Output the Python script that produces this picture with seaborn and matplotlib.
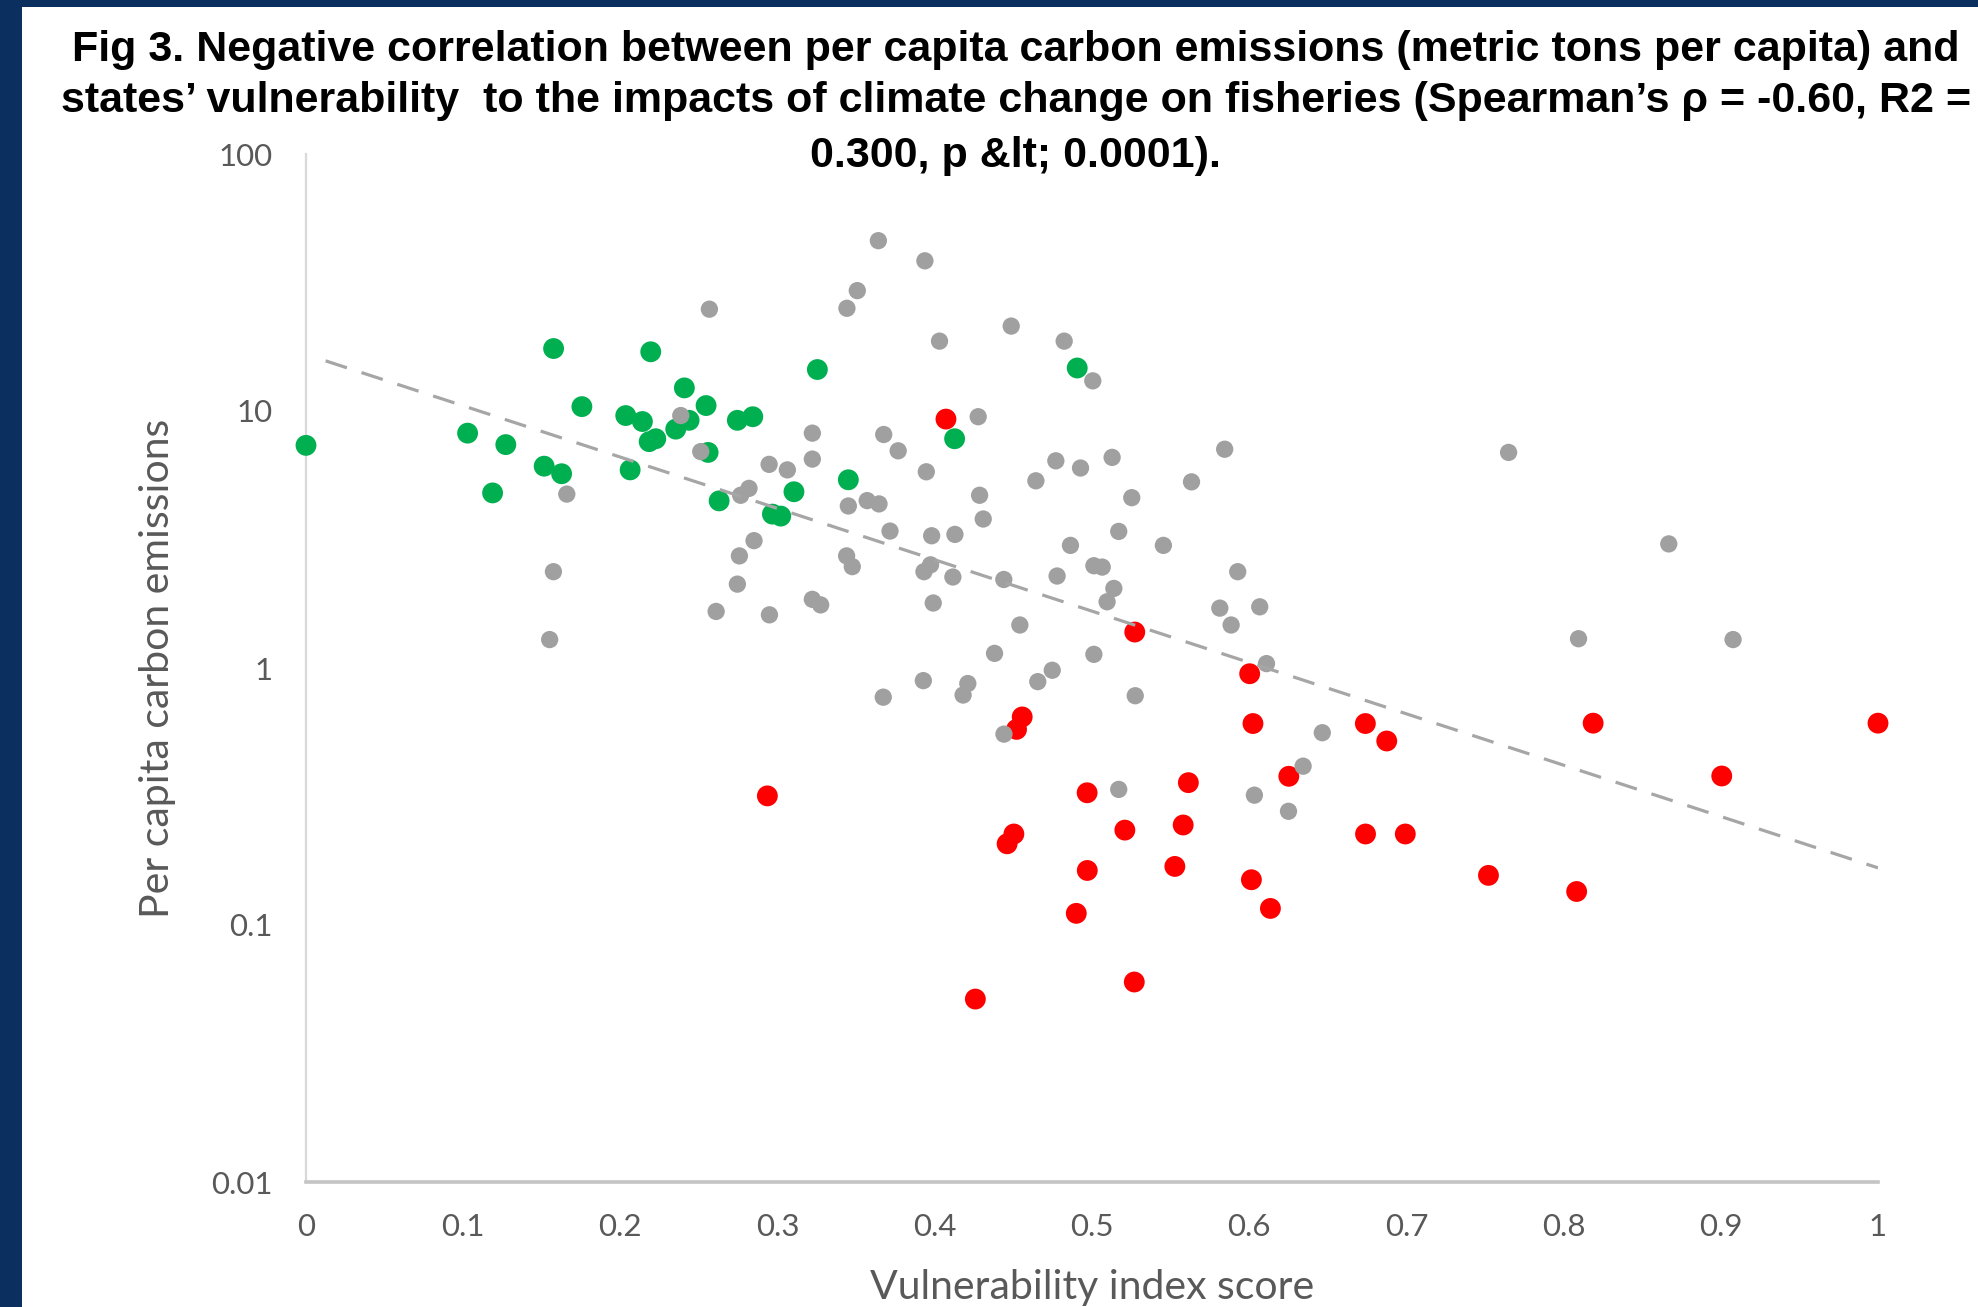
import numpy as np
import pandas as pd
import matplotlib
matplotlib.use("Agg")
import matplotlib.pyplot as plt
from matplotlib.patches import Rectangle
import seaborn as sns

# ---------------- data ----------------
green_x = [0.000, 0.1028, 0.1187, 0.1271, 0.1515, 0.1626, 0.1575, 0.1755, 0.2034, 0.2062,
           0.2140, 0.2183, 0.2225, 0.2193, 0.2352, 0.2407, 0.2437, 0.2545, 0.2558, 0.2628,
           0.2744, 0.2842, 0.2967, 0.3020, 0.3104, 0.3253, 0.3450, 0.4126, 0.4906]
green_y = [7.35, 8.2, 4.8, 7.4, 6.1, 5.7, 17.5, 10.4, 9.6, 5.9,
           9.1, 7.6, 7.8, 17.0, 8.5, 12.3, 9.2, 10.5, 6.9, 4.47,
           9.2, 9.5, 3.97, 3.9, 4.85, 14.5, 5.4, 7.8, 14.7]

red_x = [0.2935, 0.4071, 0.4258, 0.4460, 0.4503, 0.4520, 0.4556, 0.4900, 0.4969, 0.4970,
         0.5209, 0.5272, 0.5269, 0.5527, 0.5580, 0.5613, 0.6003, 0.6024, 0.6014, 0.6135,
         0.6252, 0.6739, 0.6740, 0.6875, 0.6993, 0.7522, 0.8083, 0.8188, 0.9006, 1.0000]
red_y = [0.318, 9.3, 0.0515, 0.207, 0.226, 0.577, 0.645, 0.111, 0.327, 0.163,
         0.234, 1.38, 0.060, 0.169, 0.245, 0.358, 0.95, 0.608, 0.150, 0.116,
         0.379, 0.608, 0.226, 0.52, 0.226, 0.156, 0.135, 0.61, 0.38, 0.61]

gray_x = [0.3641, 0.3937, 0.3507, 0.3441, 0.2566, 0.4030, 0.4486, 0.4823, 0.5005, 0.2384,
          0.4276, 0.3221, 0.3675, 0.3767, 0.5844, 0.2511, 0.3221, 0.4770, 0.5128, 0.4927,
          0.2946, 0.3062, 0.3946, 0.4643, 0.5633, 0.2765, 0.2818, 0.1659, 0.4285, 0.5253,
          0.3570, 0.3645, 0.3450, 0.4308, 0.3715, 0.3980, 0.4128, 0.5170, 0.2850, 0.4863,
          0.5454, 0.8669, 0.2757, 0.3439, 0.3475, 0.5012, 0.5065, 0.3973, 0.3931, 0.5927,
          0.1574, 0.4778, 0.4115, 0.4439, 0.2744, 0.5139, 0.5096, 0.3274, 0.3221, 0.3990,
          0.5813, 0.6067, 0.2609, 0.2948, 0.4541, 0.5885, 0.1550, 0.8095, 0.9078, 0.4380,
          0.5012, 0.6110, 0.4747, 0.4655, 0.4210, 0.4180, 0.3927, 0.3672, 0.5275, 0.4440,
          0.6465, 0.6343, 0.5170, 0.6033, 0.6250, 0.7650]
gray_y = [46, 38.4, 29.4, 25.1, 24.9, 18.7, 21.4, 18.7, 13.1, 9.6,
          9.5, 8.2, 8.1, 7.0, 7.1, 6.95, 6.5, 6.4, 6.6, 6.0,
          6.2, 5.9, 5.8, 5.35, 5.3, 4.7, 5.0, 4.75, 4.7, 4.6,
          4.48, 4.35, 4.27, 3.8, 3.41, 3.27, 3.31, 3.4, 3.13, 3.0,
          3.0, 3.04, 2.73, 2.73, 2.48, 2.5, 2.47, 2.52, 2.37, 2.37,
          2.37, 2.28, 2.26, 2.21, 2.12, 2.04, 1.81, 1.76, 1.85, 1.79,
          1.71, 1.73, 1.66, 1.61, 1.47, 1.47, 1.29, 1.30, 1.29, 1.14,
          1.13, 1.04, 0.98, 0.885, 0.87, 0.785, 0.893, 0.77, 0.78, 0.553,
          0.56, 0.415, 0.337, 0.32, 0.277, 6.9]

# exponential trend line (as shown by the chart): y = a * exp(b * x)
trend_a = 16.6
trend_b = -4.6
trend_range = [0.0125, 1.0]

x_ticks = [0, 0.1, 0.2, 0.3, 0.4, 0.5, 0.6, 0.7, 0.8, 0.9, 1]
x_tick_labels = ["0", "0.1", "0.2", "0.3", "0.4", "0.5", "0.6", "0.7", "0.8", "0.9", "1"]
y_ticks = [0.01, 0.1, 1, 10, 100]
y_tick_labels = ["0.01", "0.1", "1", "10", "100"]

title_lines = [
    "Fig 3. Negative correlation between per capita carbon emissions (metric tons per capita) and",
    "states\u2019 vulnerability  to the impacts of climate change on fisheries (Spearman\u2019s \u03c1 = -0.60, R2 =",
    "0.300, p &lt; 0.0001).",
]
x_label = "Vulnerability index score"
y_label = "Per capita carbon emissions"

# ---------------- styling ----------------
sns.set_theme(style="white")
plt.rcParams["font.family"] = ["Lato", "DejaVu Sans"]

W, H = 1978, 1307
fig = plt.figure(figsize=(W / 100, H / 100), dpi=100)
fig.patch.set_facecolor("#0b2f5e")
fig.add_artist(Rectangle((22 / W, 0), 1 - 22 / W, 1 - 7 / H, transform=fig.transFigure,
                         facecolor="white", edgecolor="none", zorder=0))

ax = fig.add_axes([306 / W, (H - 1182) / H, 1572 / W, 1028 / H])
ax.set_facecolor("white")

df_red = pd.DataFrame({"x": red_x, "y": red_y})
df_green = pd.DataFrame({"x": green_x, "y": green_y})
df_gray = pd.DataFrame({"x": gray_x, "y": gray_y})

sns.scatterplot(data=df_red, x="x", y="y", color="#ff0000", s=225, edgecolor="none",
                linewidth=0, ax=ax, zorder=3, clip_on=False)
sns.scatterplot(data=df_green, x="x", y="y", color="#00b050", s=225, edgecolor="none",
                linewidth=0, ax=ax, zorder=4, clip_on=False)
sns.scatterplot(data=df_gray, x="x", y="y", color="#a0a0a0", s=155, edgecolor="none",
                linewidth=0, ax=ax, zorder=5, clip_on=False)

tx = np.array(trend_range)
ty = trend_a * np.exp(trend_b * tx)
sns.lineplot(x=tx, y=ty, color="#a6a6a6", linewidth=2.3, linestyle=(0, (7.0, 4.8)),
             ax=ax, zorder=6)

ax.set_yscale("log")
ax.set_xlim(0, 1)
ax.set_ylim(0.01, 100)
ax.set_xticks(x_ticks)
ax.set_xticklabels(x_tick_labels)
ax.set_yticks(y_ticks)
ax.set_yticklabels(y_tick_labels)
ax.minorticks_off()
ax.tick_params(axis="both", length=0, labelsize=22.5, labelcolor="#595959")
ax.tick_params(axis="y", pad=24)
ax.tick_params(axis="x", pad=22)

for s in ["top", "right"]:
    ax.spines[s].set_visible(False)
ax.spines["left"].set_color("#d9d9d9")
ax.spines["left"].set_linewidth(1.6)
ax.spines["bottom"].set_color("#c4c4c4")
ax.spines["bottom"].set_linewidth(2.6)

ax.set_xlabel(x_label, fontsize=29.5, color="#595959", va="center", ha="center")
ax.xaxis.set_label_coords(0.5, (1182 - 1287) / 1028)
ax.set_ylabel(y_label, fontsize=29.5, color="#595959", va="center", ha="center")
ax.yaxis.set_label_coords((158 - 306) / 1572, 0.5)

title_y = [50, 101, 156]
for line, yy in zip(title_lines, title_y):
    fig.text(1016 / W, 1 - yy / H, line, ha="center", va="center", fontsize=31,
             fontweight="bold", color="black", family=["Liberation Sans", "DejaVu Sans"])

fig.savefig("out.png", dpi=100, facecolor=fig.get_facecolor())
